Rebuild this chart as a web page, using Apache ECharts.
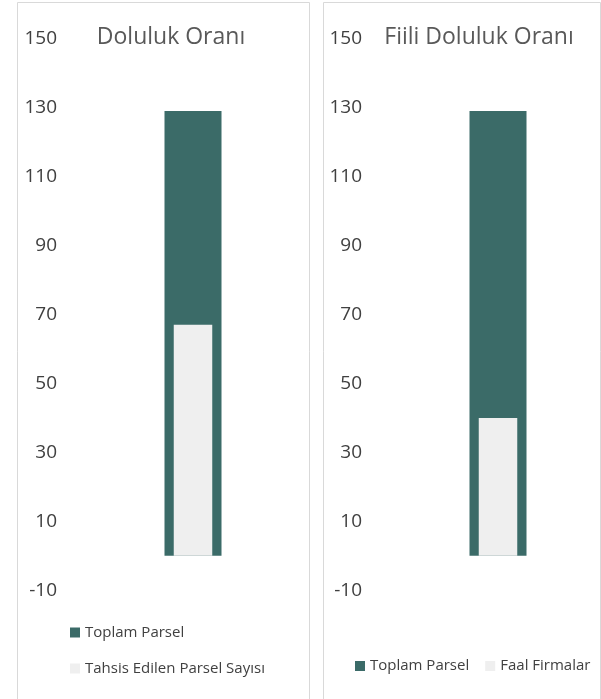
<!DOCTYPE html>
<html>
<head>
<meta charset="utf-8">
<script src="https://cdn.jsdelivr.net/npm/echarts@6/dist/echarts.min.js"></script>
<style>
html,body{margin:0;padding:0;background:#fff;}
#c{width:601px;height:699px;}
</style>
</head>
<body>
<div id="c"></div>
<script>
const categories = ['Parsel'];
const leftTitle = 'Doluluk Oranı';
const rightTitle = 'Fiili Doluluk Oranı';
const leftTotalName = 'Toplam Parsel';
const leftInnerName = 'Tahsis Edilen Parsel Sayısı';
const rightTotalName = 'Toplam Parsel';
const rightInnerName = 'Faal Firmalar';
const leftTotal = [129];
const leftInner = [67];
const rightTotal = [129];
const rightInner = [40];
const yMin = -10, yMax = 150, yStep = 20;

const DARK = '#3B6B68';
const LIGHT = '#EFEFEF';
const TXT = '#595959';
const LBL = '#404040';
const FONT = '"Open Sans", sans-serif';

const chart = echarts.init(document.getElementById('c'), null, {renderer: 'canvas'});

function yAx(gridIndex, margin) {
  return {
    type: 'value', gridIndex, min: yMin, max: yMax, interval: yStep,
    axisLine: {show: false}, axisTick: {show: false}, splitLine: {show: false},
    axisLabel: {color: LBL, fontSize: 19, fontFamily: FONT, margin: margin}
  };
}
function xAx(gridIndex) {
  return {type: 'category', gridIndex, data: categories, show: false};
}

chart.setOption({
  animation: false,
  backgroundColor: '#fff',
  grid: [
    {left: 75, width: 236, top: 38.7, bottom: 108.7},
    {left: 395, width: 206, top: 38.7, bottom: 108.7}
  ],
  xAxis: [xAx(0), xAx(0), xAx(1), xAx(1)],
  yAxis: [yAx(0, 18), yAx(1, 33)],
  legend: [
    {
      orient: 'vertical', left: 65, top: 620, itemGap: 21,
      icon: 'rect', itemWidth: 10, itemHeight: 10,
      data: [leftTotalName, leftInnerName],
      textStyle: {color: LBL, fontSize: 15, fontFamily: FONT},
      selectedMode: false
    },
    {
      orient: 'horizontal', left: 350, top: 653.5, itemGap: 16,
      icon: 'rect', itemWidth: 10, itemHeight: 10,
      data: [rightTotalName, rightInnerName],
      textStyle: {color: LBL, fontSize: 15, fontFamily: FONT},
      selectedMode: false
    }
  ],
  graphic: [
    {type: 'rect', shape: {x: 17.5, y: 2.5, width: 292, height: 720}, style: {fill: 'none', stroke: '#D9D9D9', lineWidth: 1}, silent: true},
    {type: 'rect', shape: {x: 323.5, y: 2.5, width: 277, height: 720}, style: {fill: 'none', stroke: '#D9D9D9', lineWidth: 1}, silent: true},
    {type: 'text', x: 171, y: 37, style: {text: leftTitle, fontSize: 23, fontFamily: FONT, fill: TXT, align: 'center', verticalAlign: 'middle'}},
    {type: 'text', x: 479, y: 37, style: {text: rightTitle, fontSize: 23, fontFamily: FONT, fill: TXT, align: 'center', verticalAlign: 'middle'}}
  ],
  series: [
    {name: leftTotalName, type: 'bar', xAxisIndex: 0, yAxisIndex: 0, data: leftTotal, barWidth: 57, itemStyle: {color: DARK}},
    {name: leftInnerName, type: 'bar', xAxisIndex: 1, yAxisIndex: 0, data: leftInner, barWidth: 38.5, itemStyle: {color: LIGHT}},
    {name: rightTotalName, type: 'bar', xAxisIndex: 2, yAxisIndex: 1, data: rightTotal, barWidth: 57, itemStyle: {color: DARK}},
    {name: rightInnerName, type: 'bar', xAxisIndex: 3, yAxisIndex: 1, data: rightInner, barWidth: 38.5, itemStyle: {color: LIGHT}}
  ]
});
</script>
</body>
</html>
